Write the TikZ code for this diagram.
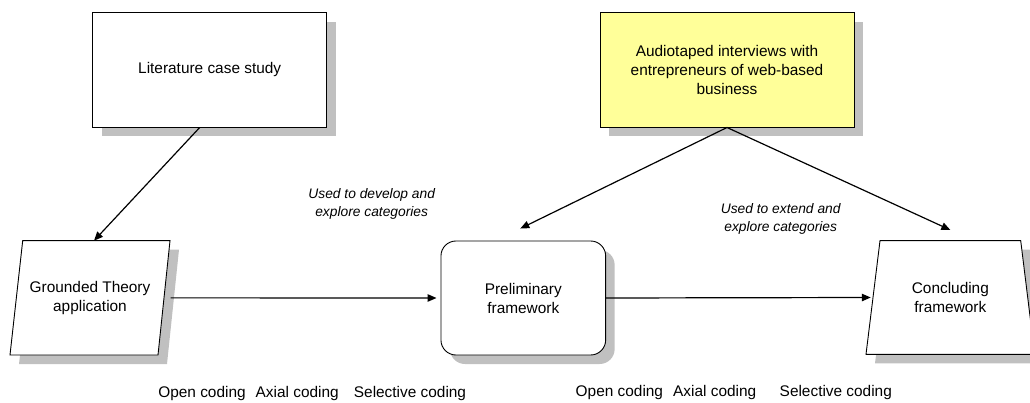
\documentclass[tikz,border=0pt]{standalone}
\usepackage{fontspec}
\setmainfont{Liberation Sans}
\usetikzlibrary{shadows,arrows.meta}
\definecolor{notepaper}{HTML}{FFFF99}
\definecolor{shadowgray}{HTML}{C0C0C0}
\begin{document}
\begin{tikzpicture}[x=1pt,y=-1pt,
	outline/.style={draw,line width=0.9pt,fill=white,
		drop shadow={shadow xshift=9pt,shadow yshift=-9pt,fill=shadowgray,opacity=1}},
	box/.style={outline,align=center,font=\fontsize{15.4}{19}\selectfont},
	label/.style={align=center,font=\fontsize{15.4}{19}\selectfont},
	note/.style={align=center,font=\fontsize{13.8}{18}\selectfont\itshape},
	coding/.style={anchor=base,font=\fontsize{15.4}{19}\selectfont},
	link/.style={line width=1.2pt,-{Triangle[length=9pt,width=7.5pt]}}]
	\useasboundingbox (0,0) rectangle (1030,403);

	\node[box,minimum width=234pt,minimum height=114.3pt] (lit) at (209.7,69.9) {Literature case study};
		\node[box,fill=notepaper,minimum width=254pt,minimum height=114.3pt] (audio) at (727,69.9) {Audiotaped interviews with\\entrepreneurs of web-based\\business};

	\coordinate (gt) at (90,297.85);
	\filldraw[outline] ([shift={(-67.3,-57.15)}]gt) -- ([shift={(80,-57.15)}]gt)
		-- ([shift={(68,57.15)}]gt) -- ([shift={(-80,57.15)}]gt) -- cycle;
	\node[label] (gt-text) at (gt) {Grounded Theory\\application};
		\node[box,rounded corners=15pt,minimum width=164.7pt,minimum height=114pt] (prelim) at (523.3,298) {Preliminary\\framework};
	\coordinate (concl) at (950.35,297.5);
	\filldraw[outline] ([shift={(-70.35,-56.8)}]concl) -- ([shift={(70.35,-56.8)}]concl)
		-- ([shift={(84.35,56.8)}]concl) -- ([shift={(-84.35,56.8)}]concl) -- cycle;
	\node[label] (concl-text) at (concl) {Concluding\\framework};

	\coordinate (gt-top) at ([shift={(4,-57.15)}]gt);
	\coordinate (gt-right) at ([shift={(80.7,0)}]gt);
	\coordinate (concl-top) at ([shift={(0,-67.5)}]concl);
	\coordinate (concl-left) at ([shift={(-79.6,0)}]concl);

		\draw[link] ([xshift=-10pt]lit.south) -- (gt-top);
		\draw[link] (audio.south) -- ([xshift=-3pt,yshift=12pt]prelim.north);
		\draw[link] (audio.south) -- (concl-top);
		\draw[link,shorten >=4pt] (gt-right) -- (prelim.west);
		\draw[link] (prelim.east) -- (concl-left);

	\node[note] (develop) at (371.7,204) {Used to develop and\\explore categories};
		\node[note] (extend) at (780.7,219) {Used to extend and\\explore categories};

	\node[coding] (open1) at (202,397) {Open coding};
	\node[coding] (axial1) at (297.2,397) {Axial coding};
	\node[coding] (select1) at (410,397) {Selective coding};
	\node[coding] (open2) at (619.4,396) {Open coding};
	\node[coding] (axial2) at (714.7,396) {Axial coding};
	\node[coding] (select2) at (835.8,396) {Selective coding};
\end{tikzpicture}
\end{document}
